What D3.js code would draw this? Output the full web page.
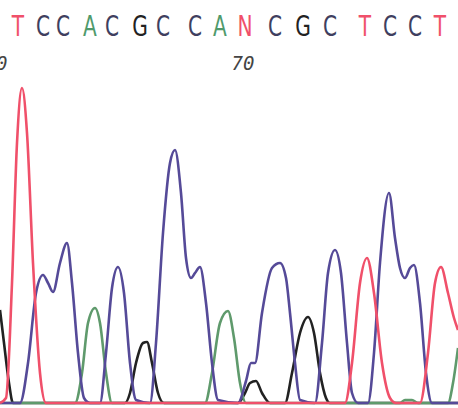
<!DOCTYPE html>
<html><head><meta charset="utf-8">
<script src="https://cdn.jsdelivr.net/npm/d3@7"></script>
<style>body{margin:0;background:#fff}</style></head>
<body><svg id="c" width="458" height="408"></svg>
<script>
const bases = ["T","C","C","A","C","G","C","C","A","N","C","G","C","T","C","C","T"];
const basePos = [18,43,63,90,112,140,163,195,220,245,275,303,330,365,390,415,440];
const tickLabels = [{pos:-4,label:"60"},{pos:243,label:"70"}];
const traceT = [[0,0],[6,5],[12,120],[17,260],[22,315],[27,270],[33,140],[40,30],[46,0],[345,0],[352,40],[360,120],[367,145],[374,110],[382,40],[390,5],[396,0],[420,0],[428,50],[435,120],[441,136],[448,110],[454,85],[458,73]];
const traceC = [[0,0],[20,0],[28,40],[36,110],[43,128],[48,120],[53,111],[60,140],[67,160],[72,120],[78,50],[84,5],[90,0],[100,0],[106,50],[112,115],[118,136],[124,110],[130,40],[136,3],[150,0],[156,60],[163,170],[170,240],[175,253],[181,210],[186,145],[191,125],[195,130],[200,136],[206,100],[212,40],[218,3],[238,0],[246,22],[251,40],[255,40],[262,90],[272,135],[280,140],[286,125],[290,90],[295,40],[300,3],[315,0],[322,60],[328,130],[335,153],[341,130],[347,60],[352,10],[358,0],[368,0],[374,50],[380,140],[389,210],[395,165],[400,135],[405,125],[410,135],[414,138],[420,100],[426,30],[432,0],[458,0]];
const traceA = [[0,0],[75,0],[82,30],[88,80],[95,95],[100,80],[106,30],[112,0],[205,0],[212,30],[220,80],[228,92],[234,65],[240,20],[246,0],[400,0],[405,3],[412,3],[418,0],[448,0],[453,20],[458,55]];
const traceG = [[0,93],[4,60],[9,20],[13,0],[125,0],[130,10],[136,40],[143,60],[147,61],[152,40],[158,10],[164,0],[238,0],[245,10],[250,20],[256,22],[262,10],[270,0],[285,0],[292,30],[300,70],[308,86],[314,70],[320,30],[326,5],[330,0],[458,0]];

const colors = {T:"#f0506a",C:"#3f3f60",A:"#4f9a6c",G:"#222222",N:"#f0506a"};
const traceColors = {T:"#f0506a",C:"#554a98",A:"#5f9a6c",G:"#222222"};
const svg = d3.select("#c");
const x = d3.scaleLinear().domain([0,458]).range([0,458]);
const y = d3.scaleLinear().domain([0,320]).range([403,83]);
const line = d3.line().x(d=>x(d[0])).y(d=>y(d[1])).curve(d3.curveMonotoneX);
[[traceG,"G"],[traceA,"A"],[traceC,"C"],[traceT,"T"]].forEach(([t,b])=>{
  svg.append("path").attr("d",line(t)).attr("fill","none").attr("stroke",traceColors[b]).attr("stroke-width",2.6).attr("stroke-linejoin","round");
});
svg.selectAll("text.b").data(bases).enter().append("text").attr("class","b")
  .attr("transform",(d,i)=>`translate(${x(basePos[i])},36) scale(0.72,1)`)
  .attr("text-anchor","middle")
  .attr("font-family","DejaVu Sans").attr("font-size",28).attr("fill",d=>colors[d])
  .text(d=>d);
svg.selectAll("text.t").data(tickLabels).enter().append("text").attr("class","t")
  .attr("x",d=>x(d.pos)).attr("y",70).attr("text-anchor","middle")
  .attr("font-family","DejaVu Sans Mono").attr("font-style","italic").attr("font-size",19).attr("fill","#444")
  .text(d=>d.label);
</script></body></html>
